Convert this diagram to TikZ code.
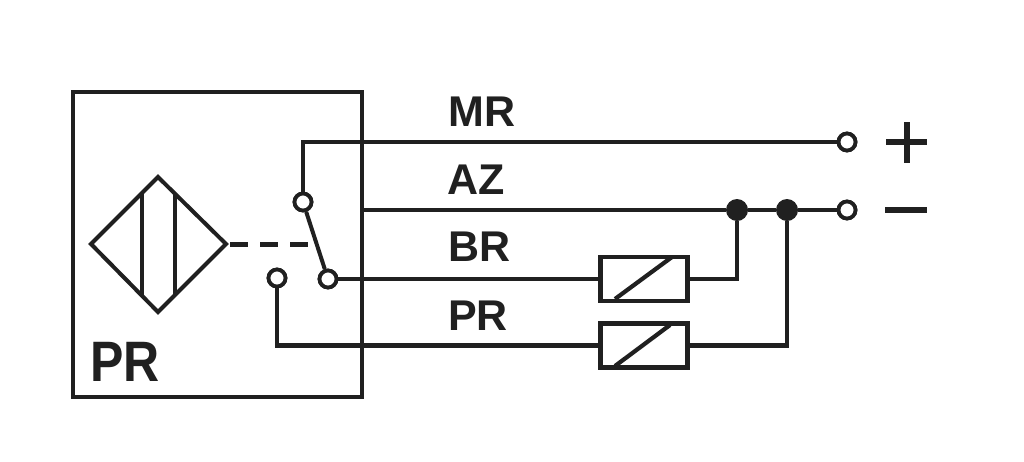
\documentclass[tikz,border=0pt]{standalone}
\usepackage{fontspec}
\setmainfont{Liberation Sans}
\usetikzlibrary{shapes.geometric}
\definecolor{ink}{RGB}{32,32,32}
\tikzset{
  wire/.style={draw=ink,line width=4.4pt},
  term/.style={circle,draw=ink,fill=white,line width=3.8pt,minimum size=17pt,inner sep=0pt},
  junction/.style={circle,fill=ink,minimum size=22pt,inner sep=0pt},
  relay/.style={rectangle,draw=ink,fill=white,line width=4.6pt,minimum width=87pt,minimum height=44pt,inner sep=0pt},
  lbl/.style={text=ink,inner sep=0pt,font=\fontsize{43}{43}\selectfont\bfseries},
  sym/.style={draw=ink,line width=5.5pt},
}
\begin{document}
\begin{tikzpicture}[x=1pt,y=-1pt]
\useasboundingbox (0,0) rectangle (1024,461);
% sensor housing
\node[rectangle,draw=ink,line width=4.8pt,minimum width=289pt,minimum height=305pt,inner sep=0pt] (housing) at (217.5,244.5) {};
% sensing face
\coordinate (dl) at (91,244); \coordinate (dt) at (158,177);
\coordinate (dr) at (226,244); \coordinate (db) at (158,312);
\draw[draw=ink,line width=4pt,line join=miter] (dl) -- (dt) -- (dr) -- (db) -- cycle;
\coordinate (vat) at (142,193); \coordinate (vab) at (142,296);
\coordinate (vbt) at (175,194); \coordinate (vbb) at (175,295);
\draw[draw=ink,line width=4.8pt] (vat) -- (vab);
\draw[draw=ink,line width=4.8pt] (vbt) -- (vbb);
% terminals
\node[term] (sa) at (303,202) {};
\node[term] (sc) at (328,279) {};
\node[term] (sb) at (277,278) {};
\node[term] (tp) at (847,142) {};
\node[term] (tm) at (847,210) {};
\node[junction] (j1) at (737,210) {};
\node[junction] (j2) at (787,210) {};
\node[relay] (r1) at (644,279) {};
\node[relay] (r2) at (644,345.5) {};
% coupling and switch
\coordinate (dashend) at (313,244);
\draw[draw=ink,line width=5pt,dash pattern=on 18pt off 12pt] (dr) ++(4,0) -- (dashend);
\draw[draw=ink,line width=4pt] (sa) -- (sc);
% wires
\draw[wire,line join=miter] (sa) -- (sa |- tp) -- (tp);
\draw[wire] (housing.east |- tm) -- (j1) -- (j2) -- (tm);
\draw[wire] (sc) -- (r1);
\draw[wire] (r1) -| (j1);
\draw[wire] (sb) |- (r2);
\draw[wire] (r2) -| (j2);
% redraw on top
\node[term] at (sa) {};
\node[term] at (sc) {};
\node[term] at (sb) {};
\node[term] at (tp) {};
\node[term] at (tm) {};
\node[relay] (r1b) at (r1) {};
\node[relay] (r2b) at (r2) {};
\coordinate (d1a) at (615,299); \coordinate (d1b) at (672,257);
\coordinate (d2a) at (615,366); \coordinate (d2b) at (670,325);
\draw[draw=ink,line width=4.2pt] (d1a) -- (d1b);
\draw[draw=ink,line width=4.2pt] (d2a) -- (d2b);
% polarity
\coordinate (pl) at (886,142); \coordinate (pr) at (927,142);
\coordinate (pt) at (907,122); \coordinate (pb) at (907,163);
\draw[sym] (pl) -- (pr);
\draw[sym] (pt) -- (pb);
\coordinate (ml) at (885,210); \coordinate (mr) at (927,210);
\draw[sym] (ml) -- (mr);
% labels
\node[lbl,anchor=base west] (lmr) at (448,126) {MR};
\node[lbl,anchor=base west] (laz) at (447,194) {AZ};
\node[lbl,anchor=base west] (lbr) at (448,261) {BR};
\node[lbl,anchor=base west] (lpr) at (448,330) {PR};
\node[lbl,anchor=base west,font=\fontsize{50}{50}\selectfont\bfseries,yscale=1.14] (lhouse) at (90,381) {PR};
\end{tikzpicture}
\end{document}
